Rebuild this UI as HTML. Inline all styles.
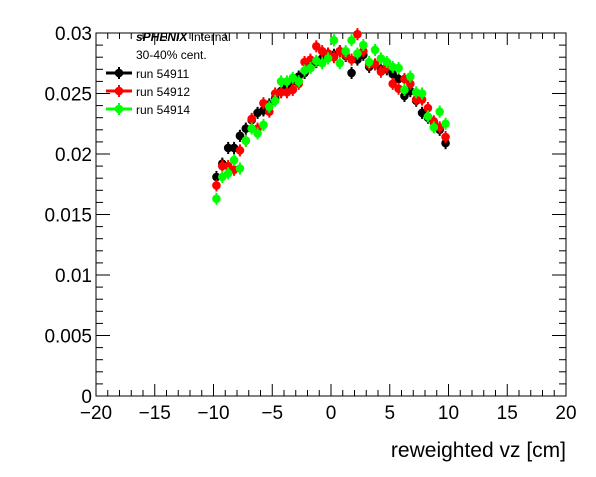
<!DOCTYPE html>
<html><head><meta charset="utf-8"><style>
body{margin:0;background:#fff}
svg text{font-family:"Liberation Sans",sans-serif}
</style></head><body>
<svg id="c" width="596" height="472" xmlns="http://www.w3.org/2000/svg"></svg>
<script>
const xCenters=[-9.75,-9.25,-8.75,-8.25,-7.75,-7.25,-6.75,-6.25,-5.75,-5.25,-4.75,-4.25,-3.75,-3.25,-2.75,-2.25,-1.75,-1.25,-0.75,-0.25,0.25,0.75,1.25,1.75,2.25,2.75,3.25,3.75,4.25,4.75,5.25,5.75,6.25,6.75,7.25,7.75,8.25,8.75,9.25,9.75];
const run54911=[.0181,.0192,.0205,.0205,.0215,.0221,.0228,.0234,.0236,.0241,.0246,.0252,.0256,.0260,.0264,.0267,.0272,.0276,.0279,.0283,.0282,.0285,.0281,.0267,.0278,.0282,.0272,.0274,.0270,.0270,.0266,.0262,.0248,.0252,.0244,.0234,.0230,.0226,.0220,.0209];
const run54912=[.0174,.0190,.0190,.0187,.0203,.0211,.0229,.0221,.0242,.0235,.0250,.0251,.0251,.0253,.0258,.0276,.0278,.0289,.0285,.0283,.0280,.0285,.0282,.0278,.0299,.0285,.0274,.0274,.0268,.0272,.0258,.0254,.0262,.0258,.0245,.0245,.0238,.0227,.0222,.0214];
const run54914=[.0163,.0181,.0184,.0195,.0188,.0211,.0221,.0217,.0224,.0239,.0244,.0260,.0260,.0263,.0260,.0269,.0271,.0277,.0275,.0279,.0294,.0275,.0285,.0294,.0283,.0290,.0276,.0286,.0279,.0276,.0272,.0271,.0253,.0264,.0251,.0250,.0231,.0222,.0235,.0225];
const xTicks=[-20,-15,-10,-5,0,5,10,15,20];
const yTicks=[0,0.005,0.01,0.015,0.02,0.025,0.03];
const yTickLabels=["0","0.005","0.01","0.015","0.02","0.025","0.03"];
const seriesNames=["run 54911","run 54912","run 54914"];
const seriesColors=["#000","#f00","#0f0"];
const errBar=0.0005;

const L=96,R=566,T=33,B=396;
const X=v=>L+(v+20)/40*(R-L);
const Y=v=>B-v/0.03*(B-T);
const s=document.getElementById('c');
const NS="http://www.w3.org/2000/svg";
function mk(t,a,p){const e=document.createElementNS(NS,t);for(const k in a)e.setAttribute(k,a[k]);(p||s).appendChild(e);return e;}

const frame=mk('rect',{x:L,y:T,width:R-L,height:B-T,fill:'none',stroke:'#000','stroke-width':1});



const xg=mk('g',{});


for(let v=-20;v<=20;v++){const maj=v%5===0;const h=maj?12:6;
 mk('line',{x1:X(v),x2:X(v),y1:B,y2:B-h,stroke:'#000'},xg);
 mk('line',{x1:X(v),x2:X(v),y1:T,y2:T+h,stroke:'#000'},xg);}
xTicks.forEach(v=>{const t=mk('text',{x:X(v),y:B+23,'text-anchor':'middle','font-size':19},xg);t.textContent=(v<0?'\u2212'+(-v):v);
 
 });
const yg=mk('g',{});


for(let i=0;i<=30;i++){const v=i*0.001;const maj=i%5===0;const h=maj?14:7;
 mk('line',{x1:L,x2:L+h,y1:Y(v),y2:Y(v),stroke:'#000'},yg);
 mk('line',{x1:R,x2:R-h,y1:Y(v),y2:Y(v),stroke:'#000'},yg);}
yTicks.forEach((v,i)=>{const t=mk('text',{x:L-4,y:Y(v)+7,'text-anchor':'end','font-size':19},yg);t.textContent=yTickLabels[i];
 
 });
const xt=mk('text',{x:R,y:457,'text-anchor':'end','font-size':21});xt.textContent='reweighted vz [cm]';



[run54911,run54912,run54914].forEach((arr,si)=>{
 const g=mk('g',{fill:seriesColors[si],stroke:seriesColors[si]});
 
 
 arr.forEach((v,i)=>{
  mk('line',{x1:X(xCenters[i]),x2:X(xCenters[i]),y1:Y(v-errBar),y2:Y(v+errBar),'stroke-width':2},g);
  const c=mk('circle',{cx:X(xCenters[i]),cy:Y(v),r:4.3,stroke:'none'},g);
  
  
 });
});

const lg=mk('g',{});


const t1=mk('text',{x:136,y:41,'font-size':12},lg);
t1.innerHTML='<tspan font-weight="bold" font-style="italic">sPHENIX</tspan> Internal';
const t2=mk('text',{x:136,y:59,'font-size':12},lg);t2.textContent='30-40% cent.';
seriesNames.forEach((n,i)=>{const y=73+i*18;
 const e=mk('g',{},lg);
 
 
 mk('line',{x1:106,x2:132,y1:y,y2:y,stroke:seriesColors[i],'stroke-width':3},e);
 mk('line',{x1:119,x2:119,y1:y-6,y2:y+6,stroke:seriesColors[i],'stroke-width':2},e);
 mk('circle',{cx:119,cy:y,r:4.3,fill:seriesColors[i]},e);
 const t=mk('text',{x:136,y:y+5,'font-size':12},e);t.textContent=n;});
</script>
</body></html>
